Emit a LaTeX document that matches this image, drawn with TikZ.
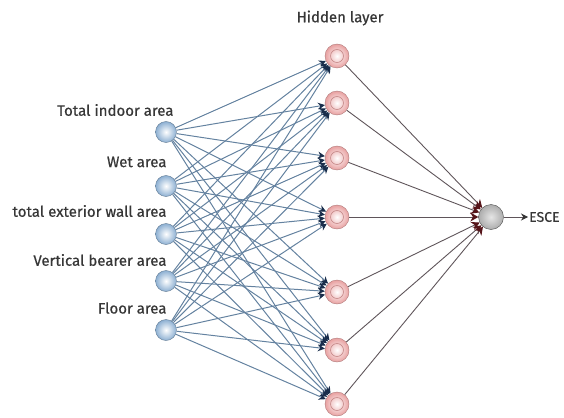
\documentclass[tikz,border=0pt]{standalone}
\usepackage{fontspec}
\setmainfont{Fira Sans}[FakeBold=0.6]
\usepackage{tikz}
\usetikzlibrary{arrows.meta}
\definecolor{linkblue}{RGB}{100,130,160}
\definecolor{tipblue}{RGB}{25,45,75}
\definecolor{linkgray}{RGB}{95,85,90}
\definecolor{tipred}{RGB}{85,20,25}
\definecolor{textgray}{RGB}{55,55,55}
\definecolor{inblue}{RGB}{140,175,210}
\definecolor{hidpink}{RGB}{232,160,160}
\tikzstyle{inputnode} = [circle, minimum size=21pt, inner sep=0pt, shading=radial, inner color=white, outer color=inblue, draw=inblue!70!black]
\tikzstyle{hiddennode} = [circle, minimum size=24pt, inner sep=0pt, shading=radial, inner color=white, outer color=hidpink, draw=hidpink!75!black,
  path picture={\draw[hidpink!85!black, line width=0.6pt] (path picture bounding box.center) circle (6.5pt);}]
\tikzstyle{outputnode} = [circle, minimum size=25pt, inner sep=0pt, shading=radial, inner color=gray!20, outer color=gray!65, draw=gray!60!black]
\tikzstyle{inlink} = [linkblue, line width=1pt, -{Stealth[length=7pt, width=7pt, color=tipblue]}]
\tikzstyle{outlink} = [linkgray, line width=0.9pt, -{Stealth[length=8pt, width=9pt, color=tipred]}]
\tikzstyle{resultlink} = [linkgray, line width=1pt, -{Stealth[length=7pt, width=7pt, color=black!80]}]
\tikzstyle{inname} = [font=\fontsize{15}{17}\selectfont, text=textgray, anchor=east]

\begin{document}
\begin{tikzpicture}[x=1pt, y=-1pt]
  \useasboundingbox (0,0) rectangle (564,417);

  % input layer
  \node (i1) [inputnode] at (166,132) {};
  \node (i2) [inputnode] at (166,186) {};
  \node (i3) [inputnode] at (166,234) {};
  \node (i4) [inputnode] at (166,281) {};
  \node (i5) [inputnode] at (166,330) {};

  \node (t1) [inname] at (177,110) {Total indoor area};
  \node (t2) [inname] at (170,162) {Wet area};
  \node (t3) [inname] at (170,211) {total exterior wall area};
  \node (t4) [inname] at (170,260) {Vertical bearer area};
  \node (t5) [inname] at (170,308) {Floor area};

  % hidden layer
  \node (h1) [hiddennode] at (337,56) {};
  \node (h2) [hiddennode] at (337,103) {};
  \node (h3) [hiddennode] at (337,158) {};
  \node (h4) [hiddennode] at (337,217) {};
  \node (h5) [hiddennode] at (337,292) {};
  \node (h6) [hiddennode] at (337,350) {};
  \node (h7) [hiddennode] at (337,404) {};
  \node (hidden) [font=\fontsize{15}{17}\selectfont, text=textgray] at (340,18) {Hidden layer};

  % output
  \node (out) [outputnode] at (491,217) {};
  \node (esce) [font=\fontsize{14}{16}\selectfont, text=textgray, anchor=west, inner sep=1pt] at (528,217) {ESCE};

  \foreach \i in {1,...,5}
    \foreach \h in {1,...,7}
      \draw [inlink] (i\i) -- (h\h);
  \foreach \h in {1,...,7}
    \draw [outlink] (h\h) -- (out);
  \draw [resultlink] (out) -- (esce);

\end{tikzpicture}
\end{document}
